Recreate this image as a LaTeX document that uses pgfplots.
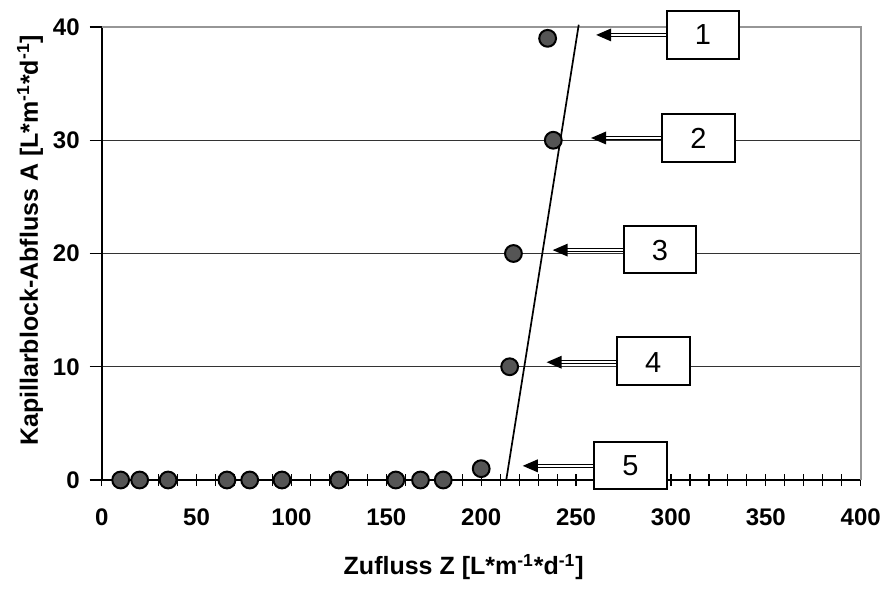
\documentclass[border=0pt]{standalone}
\usepackage{fontspec}
\setmainfont{Liberation Sans}
\usepackage{pgfplots}
\pgfplotsset{compat=1.18}
\definecolor{markgray}{RGB}{85,85,85}
\definecolor{framegray}{RGB}{150,150,150}

% numbered callout: box from x1 to x2 (ylo..yhi), arrow at height yc pointing to tip
\newcommand{\callout}[7]{%
  \draw[line width=0.55pt, double=white, double distance=0.8pt]
    (axis cs:#1,#5) -- ([xshift=7pt]axis cs:#6,#5);
  \fill (axis cs:#6,#5) -- ++(7.5pt,3.25pt) -- ++(0,-6.5pt) -- cycle;
  \draw[fill=white, line width=1pt] (axis cs:#1,#3) rectangle (axis cs:#2,#4);
  \node[font=\fontsize{14.5}{16}\selectfont] at (axis cs:{(#1+#2)/2},#5) {#7};
}

\begin{document}
\begin{tikzpicture}
\useasboundingbox (-50.85pt,-59.5pt) rectangle (390.65pt,240pt);
\begin{axis}[
  scale only axis, width=379.5pt, height=226.5pt,
  xmin=0, xmax=400, ymin=0, ymax=40,
  clip=false,
  axis x line*=bottom, axis y line*=left,
  axis line style={black, line width=0.8pt, -},
  xtick={0,50,...,400}, ytick={0,10,...,40},
  minor x tick num=4,
  xtick align=center, ytick align=outside,
  major tick length=6pt, minor tick length=6pt,
  tick style={black, line width=0.6pt},
  ymajorgrids, y grid style={black!80, line width=0.6pt},
  /pgf/number format/assume math mode=true,
  tick label style={font=\fontsize{12}{14}\selectfont\bfseries},
  xticklabel style={yshift=-8pt},
  yticklabel style={xshift=-1.5pt},
  label style={font=\fontsize{12.5}{14}\selectfont\bfseries},
  xlabel={Zufluss Z [L*m\textsuperscript{-1}*d\textsuperscript{-1}]},
  ylabel={Kapillarblock-Abfluss A [L*m\textsuperscript{-1}*d\textsuperscript{-1}]},
  xlabel style={at={([yshift=-43.5pt]rel axis cs:0.477,0)}, anchor=center},
  ylabel style={at={([xshift=-35.85pt]rel axis cs:0,0.529)}, anchor=center},
]
\draw[framegray, line width=1pt] (rel axis cs:0,1) -- (rel axis cs:1,1) -- (rel axis cs:1,0);

% fitted line
\addplot[black, line width=0.85pt, no marks] coordinates {(213.2,0) (251.4,40.2)};

% measured values
\addplot[only marks, mark=*, mark size=4.2pt,
  mark options={fill=markgray, draw=black, line width=1pt}] coordinates {
  (10,0) (20,0) (35,0) (66,0) (78,0) (95,0) (125,0) (155,0) (168,0) (180,0)
  (200,1) (215,10) (217,20) (238,30) (235,39)
};

\callout{297.9}{335.9}{37.2}{41.4}{39.3}{260.6}{1}
\callout{295.3}{333.6}{28.1}{32.35}{30.2}{257.9}{2}
\callout{275.1}{313.3}{18.25}{22.45}{20.3}{237.7}{3}
\callout{271.6}{309.8}{8.35}{12.6}{10.4}{234.5}{4}
\callout{259.6}{297.7}{-0.8}{3.35}{1.25}{221.9}{5}
\end{axis}
\end{tikzpicture}
\end{document}
